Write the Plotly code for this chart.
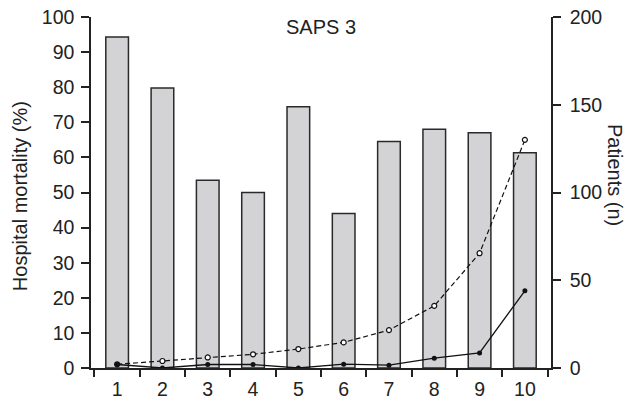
import plotly.graph_objects as go

categories = ["1", "2", "3", "4", "5", "6", "7", "8", "9", "10"]
patients = [188.6, 159.6, 107, 100, 148.8, 88, 129, 136, 134, 122.6]
predicted_mortality = [1.05, 2.0, 3.0, 3.9, 5.4, 7.3, 10.8, 17.7, 32.7, 65.0]
observed_mortality = [1.0, 0.0, 1.0, 1.0, 0.0, 1.1, 0.8, 2.8, 4.3, 22.0]
left_ticks = [0, 10, 20, 30, 40, 50, 60, 70, 80, 90, 100]
right_ticks = [0, 50, 100, 150, 200]

FONT = "Liberation Sans, Arial, sans-serif"
TXT = "#222222"
AX = "#222222"

fig = go.Figure()
fig.add_trace(go.Bar(
    x=categories, y=patients, yaxis="y",
    marker=dict(color="#d3d3d5", line=dict(color="#2a2a2a", width=1.5)),
    width=0.5, showlegend=False,
))
fig.add_trace(go.Scatter(
    x=categories, y=predicted_mortality, yaxis="y2", mode="lines+markers",
    line=dict(color="#111111", width=1.2, dash="5px,3px"),
    marker=dict(symbol="circle", size=5, color="white", line=dict(color="#111111", width=1.2)),
    showlegend=False,
))
fig.add_trace(go.Scatter(
    x=categories, y=observed_mortality, yaxis="y2", mode="lines+markers",
    line=dict(color="#111111", width=1.3),
    marker=dict(symbol="circle", size=5, color="#111111"),
    showlegend=False,
))

common = dict(showline=True, linecolor=AX, linewidth=1.5, ticks="outside",
              tickcolor=AX, tickwidth=1.5, showgrid=False, zeroline=False,
              tickfont=dict(size=19.5, color=TXT), automargin=False,
              ticklabeloverflow="allow")

fig.update_layout(
    width=632, height=401,
    margin=dict(l=91, r=81, t=17, b=33),
    plot_bgcolor="white", paper_bgcolor="white",
    font=dict(family=FONT, size=19.5, color=TXT),
    xaxis=dict(type="category", tickson="boundaries", ticklen=7,
               ticklabelstandoff=3, **common),
    yaxis=dict(side="right", range=[0, 200], tickvals=right_ticks, ticklen=8,
               ticklabelstandoff=5, **common),
    yaxis2=dict(side="left", overlaying="y", range=[0, 100], tickvals=left_ticks,
                ticklen=8, ticklabelstandoff=3, **common),
    annotations=[
        dict(text="SAPS 3", x=0.5, y=0.971, xref="paper", yref="paper",
             xanchor="center", yanchor="middle", showarrow=False,
             font=dict(size=20, color=TXT)),
        dict(text="Hospital mortality (%)", x=-0.154, y=0.49, xref="paper", yref="paper",
             xanchor="center", yanchor="middle", showarrow=False, textangle=-90,
             font=dict(size=20, color=TXT)),
        dict(text="Patients (n)", x=1.139, y=0.55, xref="paper", yref="paper",
             xanchor="center", yanchor="middle", showarrow=False, textangle=90,
             font=dict(size=20, color=TXT)),
    ],
)

fig.write_html("out.html", config={"displayModeBar": False},
               post_script="document.body.style.margin='0';document.body.style.overflow='hidden';")
